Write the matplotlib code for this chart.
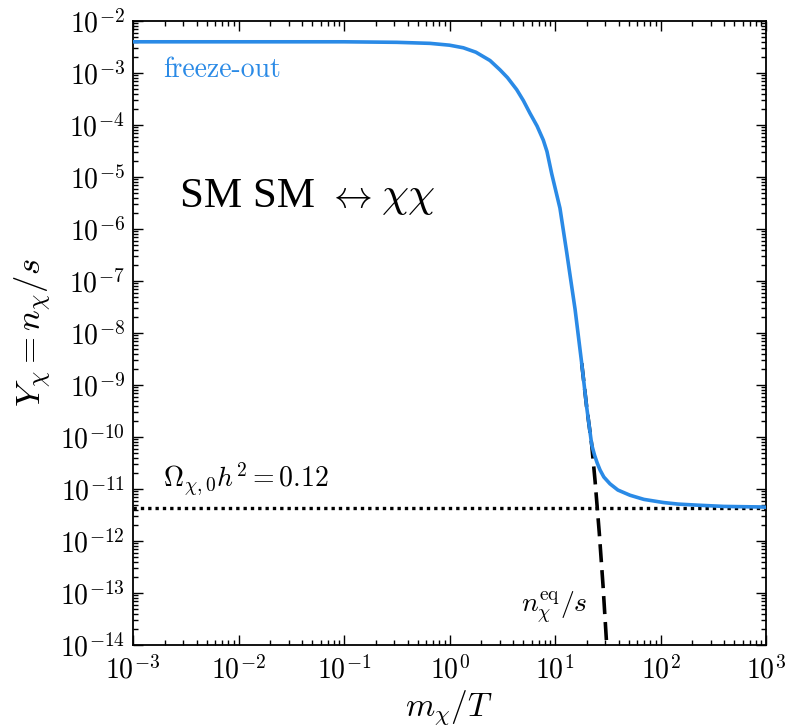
import numpy as np
import matplotlib
matplotlib.use('Agg')
import matplotlib.pyplot as plt
from matplotlib import ticker

plt.rcParams['mathtext.fontset'] = 'cm'
plt.rcParams['font.family'] = ['DejaVu Serif']

# freeze-out abundance Y_chi vs m_chi/T (log10 values)
log_x_freeze = [-3.0, -2.0, -1.0, -0.5, -0.185, 0.0, 0.131, 0.25, 0.384, 0.479,
                0.55, 0.637, 0.70, 0.763, 0.83, 0.889, 0.924, 0.969, 1.047,
                1.111, 1.142, 1.190, 1.253, 1.300, 1.348, 1.375, 1.40, 1.427,
                1.463, 1.521, 1.596, 1.711, 1.843, 2.027, 2.166, 2.343, 2.6,
                2.943, 3.0]
log_y_freeze = [-2.40, -2.40, -2.40, -2.41, -2.43, -2.465, -2.515, -2.60, -2.76,
                -2.94, -3.09, -3.32, -3.53, -3.775, -4.02, -4.29, -4.51, -4.94,
                -5.60, -6.45, -6.88, -7.54, -8.58, -9.42, -10.15, -10.35,
                -10.50, -10.635, -10.77, -10.90, -11.02, -11.12, -11.20, -11.26,
                -11.29, -11.31, -11.335, -11.345, -11.35]

# equilibrium abundance n_eq/s (visible part, log10 values)
log_x_eq = [1.253, 1.300, 1.348, 1.38, 1.42, 1.455, 1.49, 1.505]
log_y_eq = [-8.58, -9.42, -10.15, -10.85, -11.85, -12.85, -14.0, -14.5]

# relic abundance line Omega h^2 = 0.12
y_relic = 4.4e-12

W, H = 786, 727
fig = plt.figure(figsize=(W / 100, H / 100), dpi=100)
ax = fig.add_axes([133 / W, 1 - 645 / H, (766 - 133) / W, (645 - 21) / H])

blue = '#2a8ae6'
ax.axhline(y_relic, color='black', lw=2.4, ls=(0, (1, 1.2)), zorder=2)
ax.plot(10 ** np.array(log_x_eq), 10 ** np.array(log_y_eq), color='black',
        lw=2.6, ls=(0, (5, 2.2)), zorder=2)
ax.plot(10 ** np.array(log_x_freeze), 10 ** np.array(log_y_freeze), color=blue,
        lw=2.6, zorder=3, solid_capstyle='butt')

ax.set_xscale('log')
ax.set_yscale('log')
ax.set_xlim(1e-3, 1e3)
ax.set_ylim(1e-14, 1e-2)

fmt = ticker.FuncFormatter(lambda v, p: r'$10^{%d}$' % int(round(np.log10(v))))
for axis in (ax.xaxis, ax.yaxis):
    axis.set_major_locator(ticker.LogLocator(base=10, numticks=20))
    axis.set_minor_locator(ticker.LogLocator(base=10, subs=range(2, 10), numticks=20))
    axis.set_major_formatter(fmt)
    axis.set_minor_formatter(ticker.NullFormatter())

ax.tick_params(which='both', direction='in', top=True, right=True, labelsize=20, width=1.0)
ax.tick_params(which='major', length=7)
ax.tick_params(which='minor', length=3.5)
ax.tick_params(axis='x', which='major', pad=8)
ax.tick_params(axis='y', which='major', pad=6)
for s in ax.spines.values():
    s.set_linewidth(1.3)

ax.set_xlabel(r'$m_\chi/T$', fontsize=24)
ax.set_ylabel(r'$Y_\chi = n_\chi/s$', fontsize=25)
ax.xaxis.set_label_coords(0.5, -0.069)
ax.yaxis.set_label_coords(-0.125, 0.5)

ax.text(0.047, 0.910, 'freeze-out', transform=ax.transAxes, color=blue,
        fontsize=20, family='cmr10', ha='left', va='baseline')
ax.text(0.074, 0.702, 'SM SM', transform=ax.transAxes,
        fontsize=31, family='Liberation Serif', ha='left', va='baseline')
ax.text(0.307, 0.702, r'$\leftrightarrow$', transform=ax.transAxes,
        fontsize=28, ha='left', va='baseline')
ax.text(0.392, 0.702, r'$\chi\chi$', transform=ax.transAxes,
        fontsize=31, ha='left', va='baseline')
ax.text(0.047, 0.252, r'$\Omega_{\chi,0}h^2 = 0.12$', transform=ax.transAxes,
        fontsize=20, ha='left', va='baseline')
ax.text(0.718, 0.052, r'$n_\chi^{\rm eq}/s$', transform=ax.transAxes,
        fontsize=20, ha='right', va='baseline')

fig.savefig('out.png', dpi=100)
